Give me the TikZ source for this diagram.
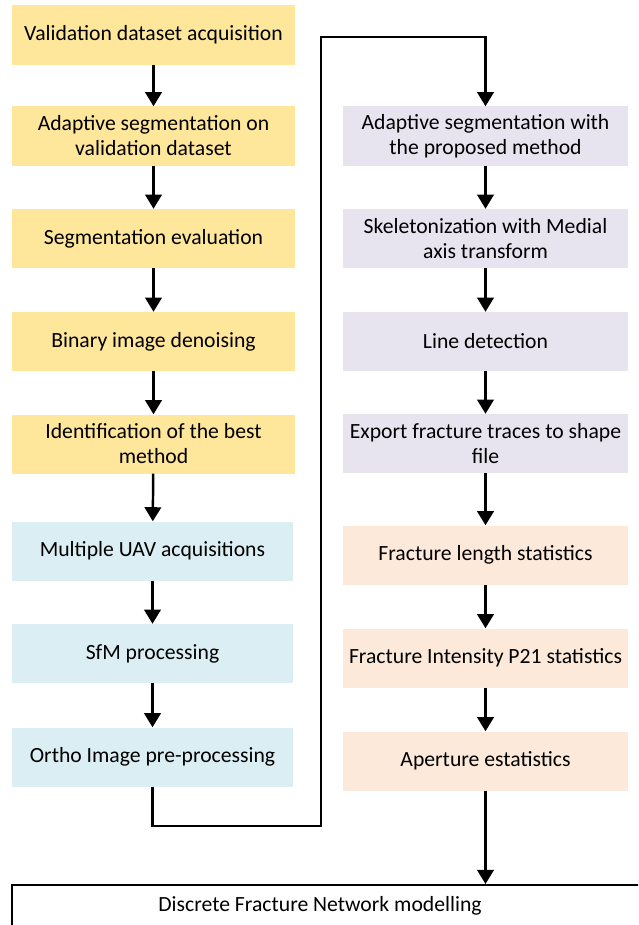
\documentclass[tikz,border=0pt]{standalone}
\usepackage{fontspec}
\setmainfont{Carlito}
\usetikzlibrary{arrows.meta}

\definecolor{validyellow}{HTML}{FEE69B}
\definecolor{uavblue}{HTML}{DAEEF3}
\definecolor{tracepurple}{HTML}{E8E4EF}
\definecolor{statsorange}{HTML}{FCE9DA}

\begin{document}
\begin{tikzpicture}[x=0.03cm, y=-0.03cm,
	box/.style={minimum height=1.77cm, inner sep=0pt, align=center, font=\fontsize{18.5}{21.3}\selectfont},
	valid/.style={box, minimum width=8.49cm, fill=validyellow},
	uav/.style={box, minimum width=8.4cm, fill=uavblue},
	trace/.style={box, minimum width=8.55cm, fill=tracepurple},
	stats/.style={box, minimum width=8.55cm, fill=statsorange},
	dfnbox/.style={draw, line width=2.1pt, minimum width=25cm, minimum height=1.5cm, inner sep=0pt},
	flow/.style={line width=2.1pt, -{Triangle[width=14pt,length=12pt]}}]
			%%%%% START %%%%%
			\clip (0,0) rectangle (638,925);
			
			% validation branch
			\node[valid] (l1) at (153.5,35) {Validation dataset acquisition};
			\node[valid] (l2) at (153.5,136) {Adaptive segmentation on\\validation dataset};
			\node[valid] (l3) at (153.5,238.5) {Segmentation evaluation};
			\node[valid] (l4) at (153.5,341.5) {Binary image denoising};
			\node[valid] (l5) at (153.5,444) {Identification of the best\\method};
			
			% UAV branch
			\node[uav] (l6) at (152.5,551) {Multiple UAV acquisitions};
			\node[uav] (l7) at (152.5,653.5) {SfM processing};
			\node[uav] (l8) at (152.5,757) {Ortho Image pre-processing};
			
			% trace extraction
			\node[trace] (r1) at (485.5,136) {Adaptive segmentation with\\the proposed method};
			\node[trace] (r2) at (485.5,238.5) {Skeletonization with Medial\\axis transform};
			\node[trace] (r3) at (485.5,341.5) {Line detection};
			\node[trace] (r4) at (485.5,443.5) {Export fracture traces to shape\\file};
			
			% statistics
			\node[stats] (r5) at (485.5,555) {Fracture length statistics};
			\node[stats] (r6) at (485.5,658) {Fracture Intensity P21 statistics};
			\node[stats] (r7) at (485.5,761) {Aperture estatistics};
			
			% DFN box, cut by the page edge
			\node[dfnbox, anchor=north west] (dfn) at (11,884) {};
			\node[box] (dfntext) at (320,906) {Discrete Fracture Network modelling};
			
			\foreach \a/\b in {l1/l2, l2/l3, l3/l4, l4/l5, l5/l6, l6/l7, l7/l8, r1/r2, r2/r3, r3/r4, r4/r5, r5/r6, r6/r7}
				\draw[flow] (\a) -- (\b);
			
			\draw[flow] (l8) -- (l8 |- 0,826) -| (321,37) -| (r1);
			\draw[flow] (r7) -- (r7 |- dfn.north);
			%%%%% END %%%%%
\end{tikzpicture}
\end{document}
